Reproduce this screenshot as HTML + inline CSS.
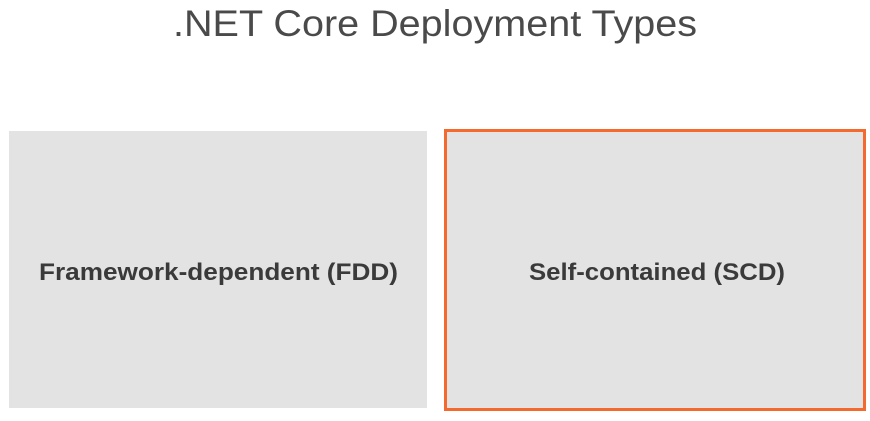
<!DOCTYPE html>
<html><head><meta charset="utf-8"><style>
html,body{margin:0;padding:0;background:#fff;}
svg{display:block;}
</style></head><body>
<svg width="870" height="421" xmlns="http://www.w3.org/2000/svg">
<rect width="870" height="421" fill="#fff"/>
<text x="173" y="36" font-family="Liberation Sans, sans-serif" font-size="37" fill="#4a4a4a" textLength="524" lengthAdjust="spacingAndGlyphs">.NET Core Deployment Types</text>
<rect x="9" y="131" width="418" height="277" fill="#e4e3e4"/>
<rect x="445.5" y="130.5" width="419" height="279" fill="#e4e3e4" stroke="#f4692e" stroke-width="3"/>
<text x="39" y="280" font-family="Liberation Sans, sans-serif" font-weight="bold" font-size="24" fill="#3a3a3a" textLength="359" lengthAdjust="spacingAndGlyphs">Framework-dependent (FDD)</text>
<text x="529" y="280" font-family="Liberation Sans, sans-serif" font-weight="bold" font-size="24" fill="#3a3a3a" textLength="256" lengthAdjust="spacingAndGlyphs">Self-contained (SCD)</text>
</svg>
</body></html>
